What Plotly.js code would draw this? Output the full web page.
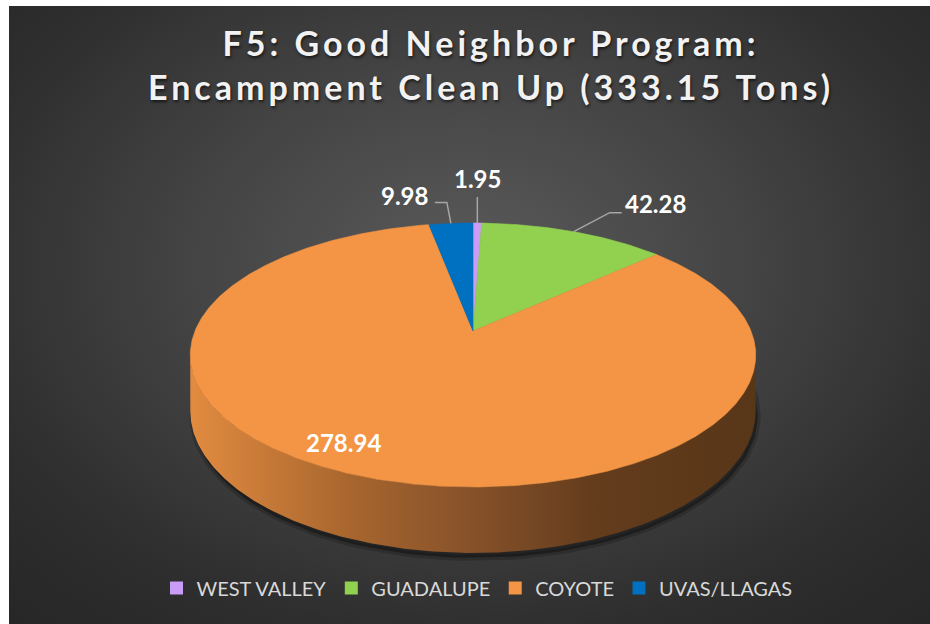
<!DOCTYPE html>
<html>
<head>
<meta charset="utf-8">
<script src="https://cdn.plot.ly/plotly-3.0.1.min.js"></script>
<style>
  html, body { margin:0; padding:0; background:#ffffff; }
  #bg { position:absolute; left:9px; top:6px; width:921px; height:618px;
        background: radial-gradient(ellipse 75% 80% at 50% 42%, #5a5a5a 0%, #444444 40%, #2e2e2e 75%, #262626 100%); }
  #chart { position:absolute; left:0; top:0; width:930px; height:624px; }
  .gtitle { letter-spacing: 4px; }
</style>
</head>
<body>
<div id="bg"></div>
<div id="chart"></div>
<script>
// ---- data ----
const categories = ['WEST VALLEY', 'GUADALUPE', 'COYOTE', 'UVAS/LLAGAS'];
const values = [1.95, 42.28, 278.94, 9.98];
const valueLabels = ['1.95', '42.28', '278.94', '9.98'];
const chartTitle = 'F5: Good Neighbor Program:<br>Encampment Clean Up (333.15 Tons)';

// ---- style ----
const colors = ['#c99cf7', '#92d050', '#f39545', '#0070c0'];
// perspective pie geometry (pixel space)
const G = { cx: 473, cy: 331, a: 278, b: 127.6, k: 0.1818, depth: 54 };
// side shading colorscale (left -> right)
const sideScale = [[0, 'rgb(226,139,64)'], [0.28, 'rgb(168,102,46)'], [0.49, 'rgb(135,82,42)'], [0.72, 'rgb(99,60,28)'], [1, 'rgb(88,54,24)']];
// label offsets relative to the slice's rim midpoint
const labelOffsets = [
  { lab: [0, -45], lead: [[0, -26]] },
  { lab: [82, -28], lead: [[36, -19], [48, -19]] },
  { lab: [-23, -35], lead: [] },
  { lab: [-46, -28], lead: [[-4, -21], [-16, -21]] }
];

function proj(deg, drop) {
  const t = deg * Math.PI / 180;
  const u = Math.sin(t), v = Math.cos(t);
  const w = 1 + G.k * v;
  return [G.cx + G.a * u / w, G.cy - G.b * v / w + (drop ? G.depth / w : 0)];
}
function arcPts(a0, a1, drop, step) {
  const n = Math.max(2, Math.ceil((a1 - a0) / step));
  const pts = [];
  for (let i = 0; i <= n; i++) pts.push(proj(a0 + (a1 - a0) * i / n, drop));
  return pts;
}

const total = values.reduce((s, v) => s + v, 0);
const starts = [], ends = [];
let acc = 0;
values.forEach(v => { starts.push(acc / total * 360); acc += v; ends.push(acc / total * 360); });

const traces = [];
// shadow under the pie
{
  const pts = arcPts(0, 360, true, 2);
  traces.push({ type: 'scatter', mode: 'lines', x: pts.map(p => p[0] + 2), y: pts.map(p => p[1] + 5),
    fill: 'toself', fillcolor: 'rgba(0,0,0,0.35)', line: { color: 'rgba(0,0,0,0.18)', width: 6 },
    hoverinfo: 'skip', showlegend: false });
}
// visible side of the cylinder
const visA = Math.acos(-G.k) * 180 / Math.PI, visB = 360 - visA;
const xL = proj(visB, false)[0], xR = proj(visA, false)[0];
values.forEach((v, i) => {
  const a0 = Math.max(starts[i], visA), a1 = Math.min(ends[i], visB);
  if (a1 <= a0) return;
  const pts = arcPts(a0, a1, false, 0.5).concat(arcPts(a0, a1, true, 0.5).reverse());
  traces.push({ type: 'scatter', mode: 'lines', x: pts.map(p => p[0]), y: pts.map(p => p[1]),
    fill: 'toself', fillgradient: { type: 'horizontal', colorscale: sideScale, start: xL, stop: xR },
    line: { width: 0 }, hoverinfo: 'skip', showlegend: false });
});
// top faces
values.forEach((v, i) => {
  const pts = [[G.cx, G.cy]].concat(arcPts(starts[i], ends[i], false, 0.5));
  pts.push([G.cx, G.cy]);
  traces.push({ type: 'scatter', mode: 'lines', x: pts.map(p => p[0]), y: pts.map(p => p[1]),
    fill: 'toself', fillcolor: colors[i], line: { color: colors[i], width: 0.6 },
    name: categories[i], hoverinfo: 'skip', showlegend: false });
});
// labels and leader lines
const annotations = [];
values.forEach((v, i) => {
  const mid = proj((starts[i] + ends[i]) / 2, false);
  const o = labelOffsets[i];
  if (o.lead.length) {
    const pts = [mid].concat(o.lead.map(d => [mid[0] + d[0], mid[1] + d[1]]));
    traces.push({ type: 'scatter', mode: 'lines', x: pts.map(p => p[0]), y: pts.map(p => p[1]),
      line: { color: '#a6a6a6', width: 1.5 }, hoverinfo: 'skip', showlegend: false });
  }
  annotations.push({ x: mid[0] + o.lab[0], y: mid[1] + o.lab[1], xref: 'x', yref: 'y',
    text: valueLabels[i], showarrow: false, xanchor: 'center', yanchor: 'middle',
    font: { family: 'Lato', size: 24, color: '#ffffff', weight: 'bold' } });
});
// legend entries
categories.forEach((c, i) => {
  traces.push({ type: 'scatter', mode: 'markers', x: [null], y: [null], name: c,
    marker: { symbol: 'square', size: 13, color: colors[i] }, hoverinfo: 'skip', showlegend: true });
});

const layout = {
  width: 930, height: 624,
  margin: { l: 0, r: 0, t: 0, b: 0 },
  paper_bgcolor: 'rgba(0,0,0,0)', plot_bgcolor: 'rgba(0,0,0,0)',
  xaxis: { range: [0, 930], visible: false, fixedrange: true },
  yaxis: { range: [624, 0], visible: false, fixedrange: true },
  title: { text: chartTitle, x: 0.528, xanchor: 'center', xref: 'paper', y: 1 - 56 / 624, yanchor: 'top', yref: 'container',
    font: { family: 'Lato', size: 34, color: '#f2f2f2', weight: 'bold', shadow: '1px 2px 3px rgba(0,0,0,0.6)' } },
  showlegend: true,
  legend: { orientation: 'h', x: 477 / 930, xanchor: 'center', y: 1 - 588 / 624, yanchor: 'middle',
    font: { family: 'Lato', size: 20, color: '#d9d9d9' }, bgcolor: 'rgba(0,0,0,0)', itemwidth: 30, itemclick: false, itemdoubleclick: false },
  annotations: annotations
};
Plotly.newPlot('chart', traces, layout, { displayModeBar: false, staticPlot: true });
</script>
</body>
</html>
